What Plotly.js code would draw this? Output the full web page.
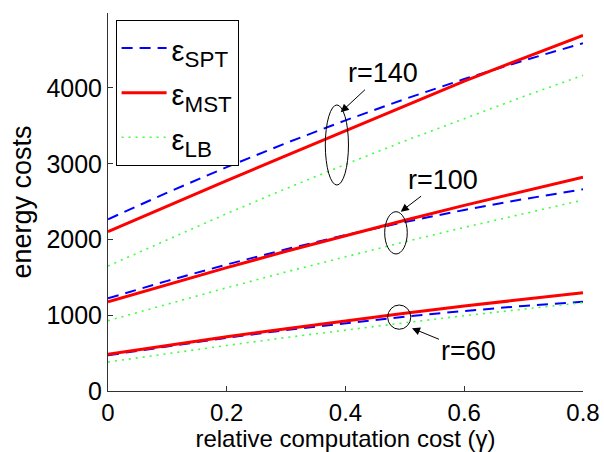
<!DOCTYPE html>
<html>
<head>
<meta charset="utf-8">
<script src="https://cdn.plot.ly/plotly-3.0.1.min.js"></script>
<style>html,body{margin:0;padding:0;background:#fff;}#chart{width:604px;height:452px;}</style>
</head>
<body>
<div id="chart"></div>
<script>
// relative computation cost (gamma)
var gamma = [0, 0.1, 0.2, 0.3, 0.4, 0.5, 0.6, 0.7, 0.8];

// r = 140
var spt140 = [2267, 2620, 2956, 3273, 3573, 3854, 4118, 4363, 4591];
var mst140 = [2103, 2442, 2776, 3106, 3435, 3770, 4090, 4395, 4695];
var lb140  = [1650, 2001, 2342, 2672, 2992, 3301, 3600, 3889, 4167];

// r = 100
var spt100 = [1224, 1454, 1670, 1871, 2058, 2231, 2390, 2533, 2662];
var mst100 = [1179, 1407, 1628, 1844, 2052, 2254, 2450, 2639, 2822];
var lb100  = [928, 1149, 1363, 1572, 1773, 1970, 2159, 2344, 2521];

// r = 60
var spt60 = [472, 592, 703, 805, 898, 982, 1056, 1123, 1179];
var mst60 = [486, 603, 715, 823, 927, 1027, 1122, 1212, 1298];
var lb60  = [383, 494, 601, 706, 806, 901, 994, 1082, 1167];

var legendNames = ['SPT', 'MST', 'LB'];
var yTicks = [0, 1000, 2000, 3000, 4000];
var xTicks = [0, 0.2, 0.4, 0.6, 0.8];
var xTickText = ['0', '0.2', '0.4', '0.6', '0.8'];

// annotation groups: label, ellipse box [x0,x1,y0,y1], arrow head, offset
var rLabels = ['r=140', 'r=100', 'r=60'];
var ellipses = [[0.366, 0.405, 2719, 3776], [0.466, 0.504, 1809, 2367], [0.471, 0.510, 815, 1135]];
var arrowHeads = [[0.392, 3680], [0.493, 2367], [0.512, 829]];
var arrowOffsets = [[42, -39], [42, -32], [56, 23]];

var FONT = 'Liberation Sans, Arial, Helvetica, sans-serif';
var styles = {
  SPT: {color: 'rgb(0,0,255)', width: 2, dash: '11px,7px'},
  MST: {color: 'rgb(255,0,0)', width: 3, dash: 'solid'},
  LB:  {color: 'rgb(60,255,60)', width: 1.6, dash: '2px,5px'}
};

function legendText(n) {
  return "<span style='font-size:29px'>ε</span><sub>" + n + "</sub>";
}

var seriesByType = {
  SPT: [spt140, spt100, spt60],
  MST: [mst140, mst100, mst60],
  LB:  [lb140, lb100, lb60]
};

var traces = [];
legendNames.forEach(function (t) {
  seriesByType[t].forEach(function (ys, i) {
    traces.push({
      x: gamma, y: ys, type: 'scatter', mode: 'lines',
      name: legendText(t), legendgroup: t, showlegend: i === 0,
      line: styles[t], hoverinfo: 'skip'
    });
  });
});

var shapes = ellipses.map(function (e) {
  return {type: 'circle', xref: 'x', yref: 'y', x0: e[0], x1: e[1], y0: e[2], y1: e[3],
          line: {color: 'black', width: 1}};
});

var annotations = rLabels.map(function (lab, i) {
  return {x: arrowHeads[i][0], y: arrowHeads[i][1], xref: 'x', yref: 'y',
          text: lab, showarrow: true, ax: arrowOffsets[i][0], ay: arrowOffsets[i][1],
          arrowhead: 2, arrowsize: 1.6, arrowwidth: 1, arrowcolor: 'black',
          font: {family: FONT, size: 27, color: 'black'}};
});

var layout = {
  width: 604, height: 452,
  margin: {l: 108, r: 21, t: 13, b: 61},
  paper_bgcolor: 'white', plot_bgcolor: 'white',
  font: {family: FONT, color: 'black'},
  showlegend: true,
  legend: {
    x: 0.016, y: 0.982, xanchor: 'left', yanchor: 'top',
    bordercolor: 'black', borderwidth: 1, bgcolor: 'white',
    font: {family: FONT, size: 32, color: 'black'},
    traceorder: 'grouped', tracegroupgap: 0, itemwidth: 45
  },
  xaxis: {
    range: [0, 0.8], tickvals: xTicks, ticktext: xTickText,
    ticks: 'inside', ticklen: 5, tickcolor: '#333', showline: true, linecolor: '#333', linewidth: 1,
    showgrid: false, zeroline: false, mirror: false,
    tickfont: {family: FONT, size: 24, color: 'black'},
    title: {text: 'relative computation cost (γ)', font: {family: FONT, size: 24, color: 'black'}, standoff: 8}
  },
  yaxis: {
    range: [0, 4990], tickvals: yTicks,
    ticks: 'inside', ticklen: 5, tickcolor: '#333', showline: true, linecolor: '#333', linewidth: 1,
    showgrid: false, zeroline: false, mirror: false,
    tickfont: {family: FONT, size: 25, color: 'black'},
    title: {text: 'energy costs', font: {family: FONT, size: 27, color: 'black'}, standoff: 6}
  },
  shapes: shapes,
  annotations: annotations
};

Plotly.newPlot('chart', traces, layout, {staticPlot: true, displayModeBar: false});
</script>
</body>
</html>
